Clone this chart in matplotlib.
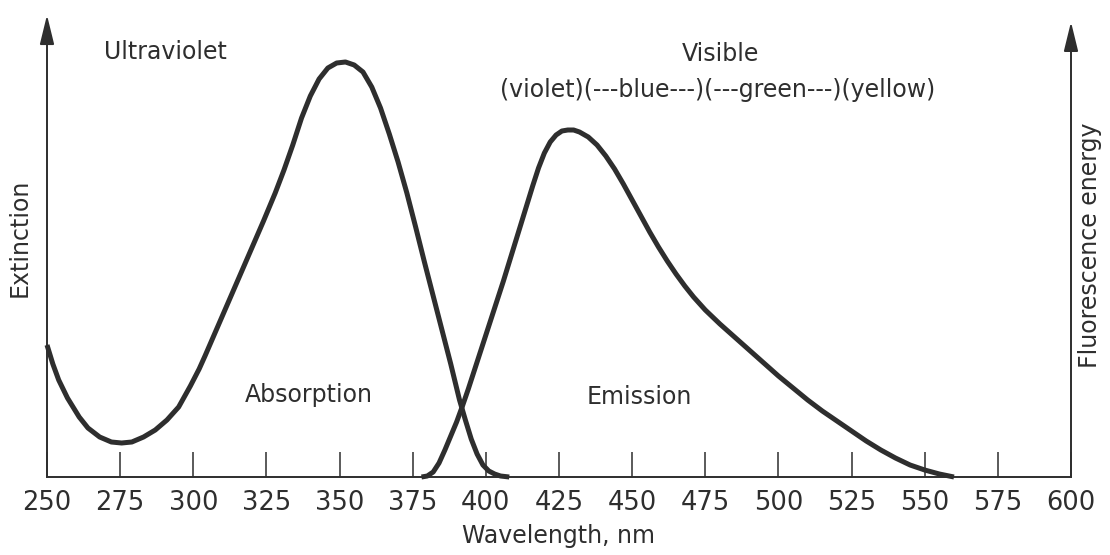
import matplotlib
matplotlib.use("Agg")
import matplotlib.pyplot as plt

# absorption (extinction) curve, heights (arbitrary units)
abs_nm = [250, 252, 254, 257, 261, 264, 268, 272, 275.5, 279, 283, 287, 291,
          295, 299, 302, 304, 308, 312, 316, 320, 324, 328, 331, 334, 337,
          340, 343, 346, 349, 352, 355, 358, 361, 364, 367, 370, 373, 376,
          379, 382, 385, 388, 391, 393, 395, 397, 399, 401, 403, 405, 408]
abs_val = [132, 113, 97, 79, 60, 49, 40, 35, 34, 35, 40, 47, 57,
           70, 91, 108, 121, 148, 175, 202, 229, 256, 284, 307, 332, 359,
           381, 398, 409, 414, 415, 412, 405, 390, 369, 343, 315, 284, 250,
           215, 181, 147, 113, 77, 57, 38, 23, 12, 6, 3, 1, 0]

# fluorescence emission curve
em_nm = [378, 380, 382, 384, 386, 388, 390, 392, 394, 396, 398, 400, 402,
         404, 406, 408, 410, 412, 414, 416, 418, 420, 422, 424, 426, 428,
         430, 432, 435, 438, 441, 444, 447, 450, 453, 456, 459, 462, 465,
         468, 471, 475, 480, 485, 490, 495, 500, 505, 510, 515, 520, 525,
         530, 535, 540, 545, 550, 555, 560]
em_val = [0, 1, 5, 14, 27, 41, 55, 71, 88, 106, 124, 142, 160,
          178, 196, 215, 234, 253, 272, 291, 309, 324, 335, 342, 346, 347,
          347, 345, 340, 332, 321, 308, 293, 277, 261, 245, 230, 216, 203,
          191, 180, 167, 153, 140, 127, 114, 101, 89, 77, 66, 56, 46,
          36, 27, 19, 12, 7, 3, 0]

ticks = list(range(250, 601, 25))

INK = "#2e2e2e"
FS = 17

fig = plt.figure(figsize=(11.1, 5.55), dpi=100)
ax = fig.add_axes([47 / 1110, 78 / 555, (1071 - 47) / 1110, (477 - 15) / 555])
ax.set_xlim(250, 600)
ax.set_ylim(0, 462)

for xs, ys in ((abs_nm, abs_val), (em_nm, em_val)):
    ax.plot(xs, ys, color=INK, lw=3.6, solid_joinstyle="round",
            solid_capstyle="butt", clip_on=False)

for s in ("top", "left", "right"):
    ax.spines[s].set_visible(False)
ax.spines["bottom"].set_color(INK)
ax.spines["bottom"].set_linewidth(1.4)

# axis arrows on both sides
arrow = dict(arrowstyle="-|>,head_length=0.9,head_width=0.22", lw=1.4,
             color=INK, shrinkA=0, shrinkB=0, mutation_scale=20)
ax.annotate("", xy=(0, 1), xytext=(0, 0), xycoords="axes fraction",
            arrowprops=arrow, annotation_clip=False)
ax.annotate("", xy=(1, 0.985), xytext=(1, 0), xycoords="axes fraction",
            arrowprops=arrow, annotation_clip=False)

ax.set_xticks(ticks)
ax.set_xticklabels([str(t) for t in ticks])
ax.set_yticks([])
ax.tick_params(axis="x", direction="in", length=18, width=1.1, color=INK,
               pad=9, labelsize=18.5, labelcolor=INK)

ax.set_xlabel("Wavelength, nm", fontsize=FS, color=INK, labelpad=6)

ax.text(290.4, 425, "Ultraviolet", fontsize=FS, color=INK, ha="center", va="center")
ax.text(480.3, 423, "Visible", fontsize=FS, color=INK, ha="center", va="center")
ax.text(479.3, 387, "(violet)(---blue---)(---green---)(yellow)", fontsize=FS,
        color=INK, ha="center", va="center")
ax.text(339.5, 82, "Absorption", fontsize=FS, color=INK, ha="center", va="center")
ax.text(452.5, 80, "Emission", fontsize=FS, color=INK, ha="center", va="center")

fig.text(20 / 1110, 1 - 238 / 555, "Extinction", fontsize=FS, color=INK,
         rotation=90, ha="center", va="center")
fig.text(1090 / 1110, 1 - 245 / 555, "Fluorescence energy", fontsize=FS,
         color=INK, rotation=90, ha="center", va="center")

fig.savefig("out.png", dpi=100, facecolor="white")
